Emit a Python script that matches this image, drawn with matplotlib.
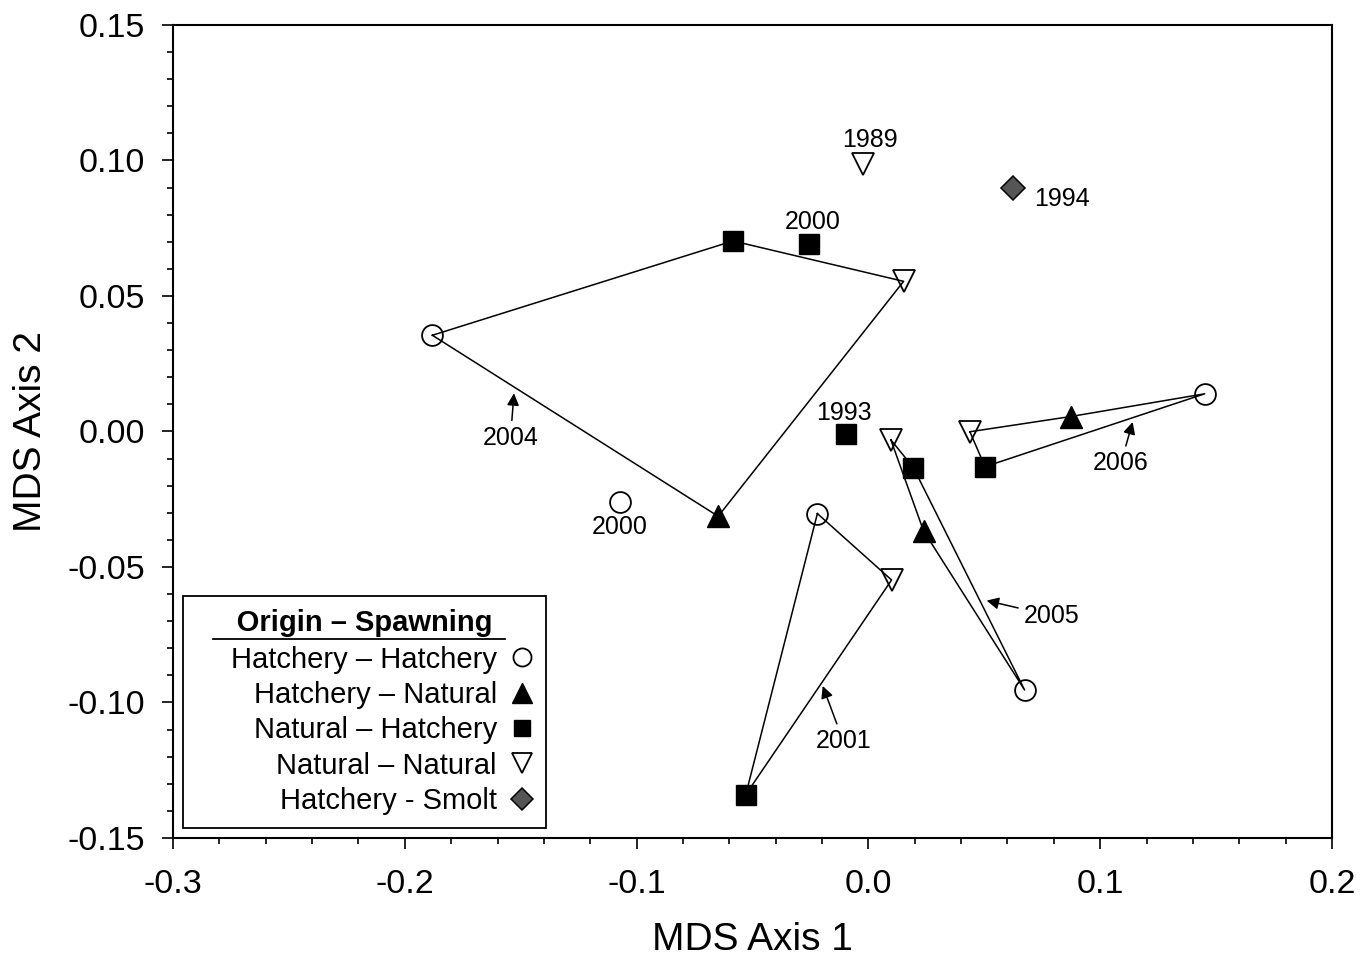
import matplotlib
matplotlib.use("Agg")
import matplotlib.pyplot as plt
from matplotlib.lines import Line2D
from matplotlib.ticker import MultipleLocator, FormatStrFormatter

plt.rcParams['font.family'] = ['Liberation Sans', 'DejaVu Sans']

# MDS coordinates
# Hatchery - Hatchery (open circles)
hh_year = ['2004', '2000', '2001', '2005', '2006']
hh_x = [-0.1881, -0.1071, -0.0220, 0.0674, 0.1451]
hh_y = [0.0355, -0.0260, -0.0303, -0.0954, 0.0139]

# Hatchery - Natural (filled triangles)
hn_year = ['2004', '2005', '2006']
hn_x = [-0.0648, 0.0238, 0.0872]
hn_y = [-0.0313, -0.0367, 0.0055]

# Natural - Hatchery (filled squares)
nh_year = ['2004', '2000', '1993', '2005', '2006', '2001']
nh_x = [-0.0584, -0.0256, -0.0097, 0.0194, 0.0503, -0.0529]
nh_y = [0.0703, 0.0691, -0.0009, -0.0133, -0.0130, -0.1340]

# Natural - Natural (open down triangles)
nn_year = ['1989', '2004', '2005', '2006', '2001']
nn_x = [-0.0023, 0.0152, 0.0097, 0.0438, 0.0100]
nn_y = [0.0987, 0.0554, -0.0031, -0.0001, -0.0548]

# Hatchery - Smolt (grey diamond)
sm_year = ['1994']
sm_x = [0.0624]
sm_y = [0.0898]

# order in which each year's points are joined
polygons = {
    '2004': ['hh', 'nh', 'nn', 'hn'],
    '2005': ['nn', 'nh', 'hh', 'hn'],
    '2006': ['nn', 'hn', 'hh', 'nh'],
    '2001': ['hh', 'nn', 'nh'],
}

groups = {
    'hh': (hh_year, hh_x, hh_y),
    'hn': (hn_year, hn_x, hn_y),
    'nh': (nh_year, nh_x, nh_y),
    'nn': (nn_year, nn_x, nn_y),
    'sm': (sm_year, sm_x, sm_y),
}

# labels for single points: (text, x, y)
point_labels = [
    ('1989', 0.0007, 0.1077),
    ('2000', -0.0241, 0.0772),
    ('1994', 0.0835, 0.0857),
    ('1993', -0.0105, 0.0070),
    ('2000', -0.1071, -0.0354),
]

# arrow labels for polygons: (text, text x, text y, tip x, tip y)
arrow_labels = [
    ('2004', -0.1544, -0.0024, -0.1529, 0.0141),
    ('2006', 0.1089, -0.0118, 0.1140, 0.0035),
    ('2005', 0.0790, -0.0680, 0.0510, -0.0624),
    ('2001', -0.0108, -0.1143, -0.0197, -0.0939),
]


def get_point(key, year):
    yrs, xs, ys = groups[key]
    i = yrs.index(year)
    return xs[i], ys[i]


fig = plt.figure(figsize=(13.6, 9.6), dpi=100)
ax = fig.add_axes([0.1272, 0.1271, 0.8522, 0.8469])

# polygon outlines
for year, keys in polygons.items():
    pts = [get_point(k, year) for k in keys]
    pts.append(pts[0])
    ax.plot([p[0] for p in pts], [p[1] for p in pts], color='black', lw=1.1, zorder=2)

# markers
ax.plot(hh_x, hh_y, 'o', ms=15, mfc='none', mec='black', mew=1.3, zorder=3)
ax.plot(hn_x, hn_y, '^', ms=16.5, mfc='black', mec='black', zorder=3)
ax.plot(nh_x, nh_y, 's', ms=14, mfc='black', mec='black', zorder=3)
ax.plot(nn_x, nn_y, 'v', ms=16.5, mfc='none', mec='black', mew=1.3, zorder=3)
ax.plot(sm_x, sm_y, 'D', ms=12, mfc='#555555', mec='black', mew=1.1, zorder=3)

for txt, x, y in point_labels:
    ax.text(x, y, txt, fontsize=18, ha='center', va='center')

for txt, tx, ty, ax_, ay in arrow_labels:
    ax.annotate(txt, xy=(ax_, ay), xytext=(tx, ty), fontsize=18,
                ha='center', va='center',
                arrowprops=dict(arrowstyle='-|>', color='black', lw=1.1,
                                mutation_scale=18, shrinkA=2, shrinkB=0))

ax.set_xlim(-0.3, 0.2)
ax.set_ylim(-0.15, 0.15)
ax.xaxis.set_major_locator(MultipleLocator(0.1))
ax.xaxis.set_minor_locator(MultipleLocator(0.02))
ax.yaxis.set_major_locator(MultipleLocator(0.05))
ax.yaxis.set_minor_locator(MultipleLocator(0.01))
ax.xaxis.set_major_formatter(FormatStrFormatter('%.1f'))
ax.yaxis.set_major_formatter(FormatStrFormatter('%.2f'))
ax.tick_params(which='both', direction='out', width=1.2, top=False, right=False)
ax.tick_params(which='major', length=8, labelsize=24.5, pad=12)
ax.tick_params(axis='x', which='major', pad=14)
ax.tick_params(which='minor', length=4.5)
for sp in ax.spines.values():
    sp.set_linewidth(1.5)

ax.set_xlabel('MDS Axis 1', fontsize=28, labelpad=16)
ax.set_ylabel('MDS Axis 2', fontsize=28, labelpad=13)

# legend
handles = [
    Line2D([], [], ls='none', marker='o', ms=13, mfc='white', mec='black', mew=1.3),
    Line2D([], [], ls='none', marker='^', ms=15, mfc='black', mec='black'),
    Line2D([], [], ls='none', marker='s', ms=11.5, mfc='black', mec='black'),
    Line2D([], [], ls='none', marker='v', ms=15, mfc='white', mec='black', mew=1.3),
    Line2D([], [], ls='none', marker='D', ms=11, mfc='#555555', mec='black', mew=1.1),
]
names = ['Hatchery – Hatchery', 'Hatchery – Natural', 'Natural – Hatchery',
         'Natural – Natural', 'Hatchery - Smolt']
leg = ax.legend(handles, names, loc='lower left', bbox_to_anchor=(0.0086, 0.0123),
                borderaxespad=0, markerfirst=False, fontsize=21, handlelength=0.8,
                handletextpad=0.45, labelspacing=0.25, borderpad=0.45,
                fancybox=False, edgecolor='black', framealpha=1,
                alignment='right',
                title='     Origin – Spawning     ',
                title_fontproperties={'size': 21, 'weight': 'bold'})
leg.get_frame().set_linewidth(1.3)
leg._legend_box.sep = 6

# underline the legend title
fig.canvas.draw()
fb = leg.get_frame().get_window_extent()
tb = leg.get_title().get_window_extent()
inv = fig.transFigure.inverted()
(x0, y0), (x1, _) = inv.transform([(fb.x0 + 30, tb.y0 - 2), (fb.x0 + 322, tb.y0)])
fig.add_artist(Line2D([x0, x1], [y0, y0], transform=fig.transFigure, color='black', lw=1.3))

fig.savefig('out.png', dpi=100)
